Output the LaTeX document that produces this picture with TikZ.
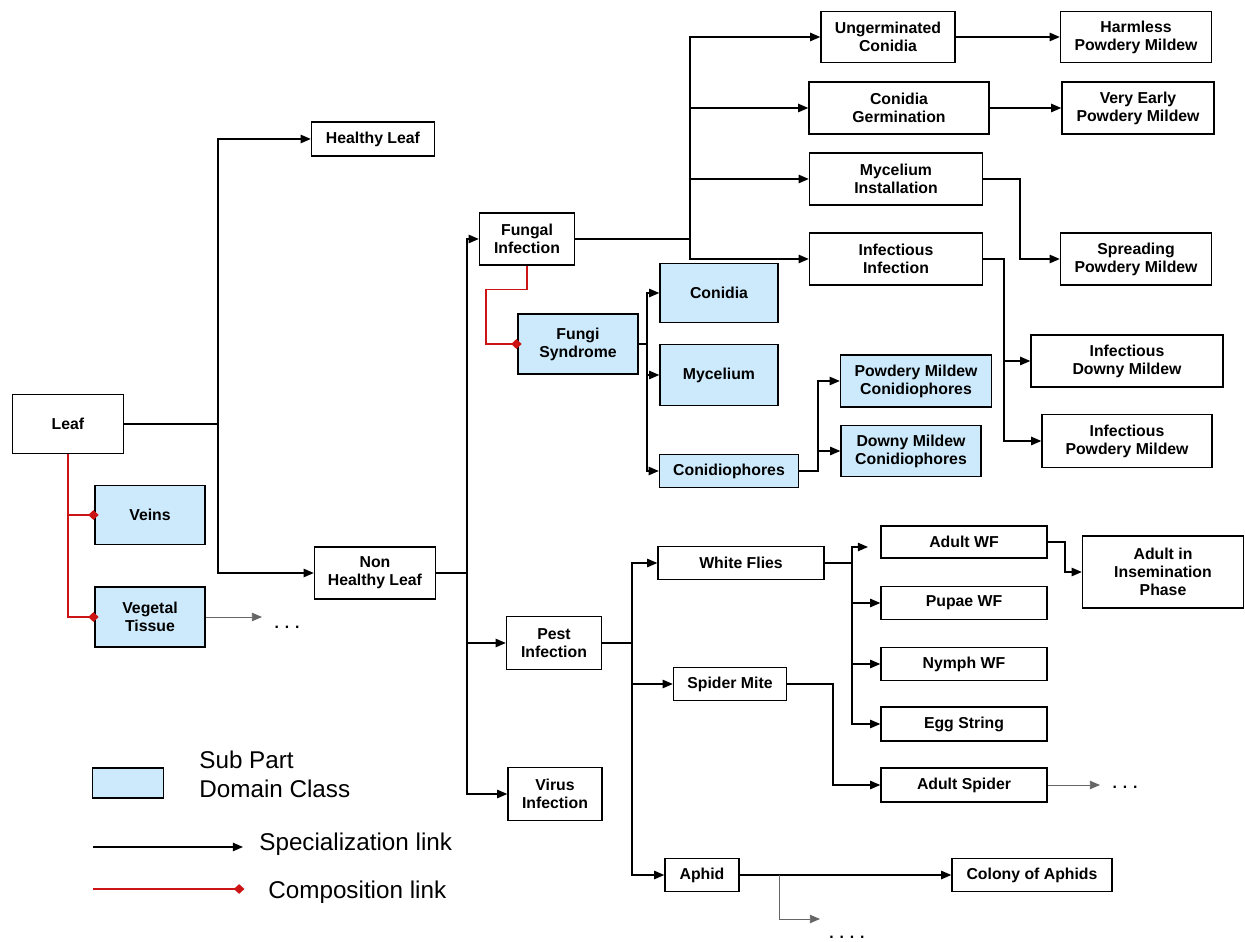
\documentclass[tikz,border=0pt]{standalone}
\usepackage{fontspec}
\setmainfont{Liberation Sans}
\usetikzlibrary{arrows.meta}
\definecolor{subpart}{RGB}{204,234,252}
\definecolor{complink}{RGB}{205,20,20}

\begin{document}
\begin{tikzpicture}[x=0.02cm,y=-0.02cm,
  cls/.style={draw,line width=0.8pt,align=center,inner sep=1pt,font=\fontsize{9}{10.2}\selectfont\bfseries},
  sub/.style={cls,fill=subpart},
  sz/.style 2 args={minimum width=#1*0.02cm,minimum height=#2*0.02cm},
  spec/.style={line width=0.8pt,-{Triangle[length=5.8pt,width=4.8pt]}},
  more/.style={line width=0.5pt,black!60,-{Triangle[length=5.8pt,width=4.8pt]}},
  comp/.style={line width=0.8pt,complink,-{Diamond[length=6pt,width=5.5pt]},shorten >=-2.5pt},
  dots/.style={font=\fontsize{9}{10}\selectfont\bfseries},
  legtxt/.style={font=\fontsize{13.8}{16.5}\selectfont,align=left,inner sep=0pt}]
  \useasboundingbox (0,0) rectangle (1245,942);

  \node[cls,sz={111}{59}] (leaf) at (68,424) {Leaf};
  \node[sub,sz={110}{59}] (veins) at (150,515) {Veins};
  \node[sub,sz={110}{60}] (vegtis) at (150,617) {Vegetal\\Tissue};
  \node[cls,sz={123}{34}] (healthy) at (373,139) {Healthy Leaf};
  \node[cls,sz={121}{52}] (nonhealthy) at (375,573) {Non\\Healthy Leaf};
  \node[cls,sz={95}{52}] (fungal) at (527,239) {Fungal\\Infection};
  \node[cls,sz={95}{53}] (pest) at (554,643) {Pest\\Infection};
  \node[cls,sz={94}{53}] (virus) at (555,794) {Virus\\Infection};
  \node[sub,sz={120}{60}] (fungi) at (578,344) {Fungi\\Syndrome};
  \node[sub,sz={118}{59}] (conidia) at (719,293) {Conidia};
  \node[sub,sz={118}{61}] (mycelium) at (719,375) {Mycelium};
  \node[sub,sz={139}{33}] (conidioph) at (729,471) {Conidiophores};
  \node[sub,sz={151}{52}] (pmcon) at (916,381) {Powdery Mildew\\Conidiophores};
  \node[sub,sz={140}{51}] (dmcon) at (911,451) {Downy Mildew\\Conidiophores};
  \node[cls,sz={134}{51}] (ungerm) at (888,37) {Ungerminated\\Conidia};
  \node[cls,sz={151}{51}] (harmless) at (1136,37) {Harmless\\Powdery Mildew};
  \node[cls,sz={180}{52}] (germ) at (899,108) {Conidia\\Germination};
  \node[cls,sz={152}{52}] (veryearly) at (1138,108) {Very Early\\Powdery Mildew};
  \node[cls,sz={173}{52}] (mycinst) at (896,179) {Mycelium\\Installation};
  \node[cls,sz={173}{52}] (infinf) at (896,259) {Infectious\\Infection};
  \node[cls,sz={151}{52}] (spreading) at (1136,259) {Spreading\\Powdery Mildew};
  \node[cls,sz={192}{52}] (infdowny) at (1127,361) {Infectious\\Downy Mildew};
  \node[cls,sz={170}{53}] (infpowdery) at (1127,441) {Infectious\\Powdery Mildew};
  \node[cls,sz={166}{33}] (whiteflies) at (741,563) {White Flies};
  \node[cls,sz={113}{33}] (spidermite) at (730,684) {Spider Mite};
  \node[cls,sz={74}{33}] (aphid) at (702,875) {Aphid};
  \node[cls,sz={160}{33}] (colony) at (1032,875) {Colony of Aphids};
  \node[cls,sz={166}{32}] (adultwf) at (964,542) {Adult WF};
  \node[cls,sz={166}{33}] (pupae) at (964,603) {Pupae WF};
  \node[cls,sz={166}{33}] (nymph) at (964,664) {Nymph WF};
  \node[cls,sz={166}{34}] (egg) at (964,724) {Egg String};
  \node[cls,sz={166}{34}] (adultspider) at (964,785) {Adult Spider};
  \node[cls,sz={161}{72}] (insem) at (1163,572) {Adult in\\Insemination\\Phase};

  \coordinate (jleaf) at (218,424);
  \draw[spec] (leaf) -- (jleaf) |- (healthy);
  \draw[spec] (jleaf) |- (nonhealthy);
  \draw[comp] (leaf) |- (veins);
  \draw[comp] (leaf) |- (vegtis);
  \coordinate (vtend) at (262,617);
  \draw[more] (vegtis) -- (vtend);
  \node[dots] (vtdots) at (287,627) {. . .};

  \coordinate (jnh) at (467,573);
  \draw[spec] (nonhealthy) -- (jnh) |- (fungal);
  \foreach \n in {pest,virus} \draw[spec] (jnh) |- (\n);

  \coordinate (jfung) at (690,239);
  \draw[spec] (fungal) -- (jfung) |- (ungerm);
  \foreach \n in {germ,mycinst,infinf} \draw[spec] (jfung) |- (\n);
  \draw[spec] (ungerm) -- (harmless);
  \draw[spec] (germ) -- (veryearly);
  \coordinate (jmyc) at (1020,179);
  \draw[spec] (mycinst) -- (jmyc) |- (spreading);
  \coordinate (jinf) at (1004,259);
  \draw[spec] (infinf) -- (jinf) |- (infdowny);
  \draw[spec] (jinf) |- (infpowdery);

  \draw[comp] (fungal.south) -- ++(0,24) -| (486,344) -- (fungi);
  \coordinate (jfs) at (647,344);
  \draw[spec] (fungi) -- (jfs) |- (conidia);
  \foreach \n in {mycelium,conidioph} \draw[spec] (jfs) |- (\n);
  \coordinate (jcph) at (818,471);
  \draw[spec] (conidioph) -- (jcph) |- (pmcon);
  \draw[spec] (jcph) |- (dmcon);

  \coordinate (jpest) at (632,643);
  \draw[spec] (pest) -- (jpest) |- (whiteflies);
  \foreach \n in {spidermite,aphid} \draw[spec] (jpest) |- (\n);
  \coordinate (jwf) at (852,563);
  \coordinate (wfend) at (868,547);
  \draw[spec] (whiteflies) -- (jwf) |- (pupae);
  \foreach \n in {nymph,egg} \draw[spec] (jwf) |- (\n);
  \draw[spec] (jwf) |- (wfend);
  \coordinate (jawf) at (1065,542);
  \draw[spec] (adultwf) -- (jawf) |- (insem);
  \coordinate (jsm) at (833,684);
  \draw[spec] (spidermite) -- (jsm) |- (adultspider);
  \coordinate (spend) at (1100,785);
  \draw[more] (adultspider) -- (spend);
  \node[dots] (spdots) at (1125,787) {. . .};

  \draw[spec] (aphid) -- (colony);
  \coordinate (japh) at (779,875);
  \coordinate (aphend) at (820,919);
  \draw[more] (japh) |- (aphend);
  \node[dots] (aphdots) at (847,937) {. . . .};

  \node[sub,sz={71}{30}] (legbox) at (128,783) {};
  \node[legtxt,anchor=west] (legsub) at (199,774) {Sub Part\\Domain Class};
  \coordinate (specA) at (93,847);
  \coordinate (specB) at (243,847);
  \draw[spec] (specA) -- (specB);
  \node[legtxt,anchor=base west] (legspec) at (259,850) {Specialization link};
  \coordinate (compA) at (93,889);
  \coordinate (compB) at (240,889);
  \draw[comp] (compA) -- (compB);
  \node[legtxt,anchor=base west] (legcomp) at (268,898) {Composition link};
\end{tikzpicture}
\end{document}
